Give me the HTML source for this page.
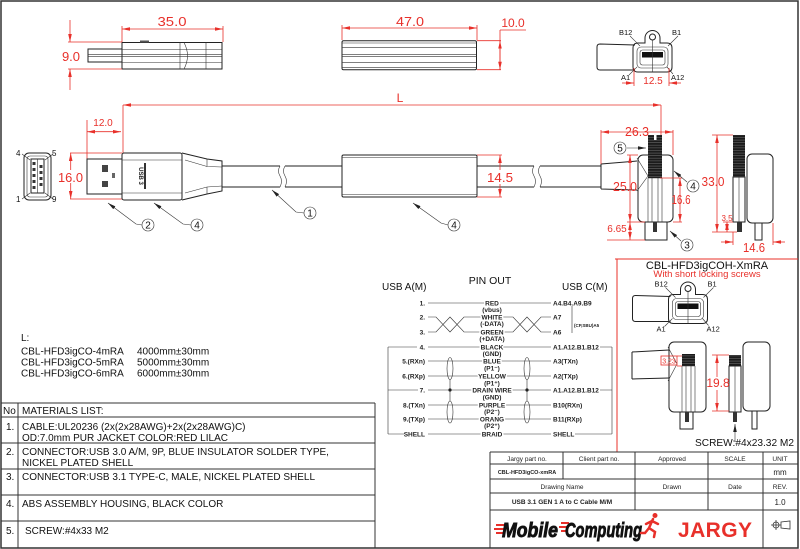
<!DOCTYPE html>
<html><head><meta charset="utf-8"><style>
html,body{margin:0;padding:0;background:#fff;width:800px;height:549px;overflow:hidden}
svg{display:block}
text{font-family:"Liberation Sans",Arial,sans-serif}
.r{fill:#e8302a}
.rs{stroke:#e8302a;stroke-width:0.8;fill:none}
.k{stroke:#222;stroke-width:1;fill:none}
.kt{stroke:#333;stroke-width:0.6;fill:none}
.pl{font-size:6.5px;font-weight:bold;fill:#222}
.halo{paint-order:stroke;stroke:#fff;stroke-width:3px;stroke-linejoin:round}
.t10{font-size:10px;fill:#111}
.tb{font-size:6.5px;fill:#222}
</style></head><body>
<svg width="800" height="549" viewBox="0 0 800 549" xmlns="http://www.w3.org/2000/svg">
<defs>
<marker id="ar" viewBox="0 0 10 4" refX="10" refY="2" markerWidth="8" markerHeight="3.6" orient="auto-start-reverse" markerUnits="userSpaceOnUse" preserveAspectRatio="none"><path d="M0,0L10,2L0,4z" fill="#e8302a"/></marker>
<marker id="ak" viewBox="0 0 10 4" refX="10" refY="2" markerWidth="8" markerHeight="3.6" orient="auto-start-reverse" markerUnits="userSpaceOnUse" preserveAspectRatio="none"><path d="M0,0L10,2L0,4z" fill="#222"/></marker>
<pattern id="th" width="4" height="2.6" patternUnits="userSpaceOnUse"><rect width="4" height="2.6" fill="#1b1b1b"/><rect y="2" width="4" height="0.5" fill="#777"/></pattern>
</defs>

<rect x="1" y="1" width="797" height="547" fill="none" stroke="#333" stroke-width="1.5"/>

<!-- ===== Top-left USB A side view ===== -->
<rect x="122" y="42.5" width="100" height="26.5" class="k"/>
<rect x="88" y="49" width="34" height="13" class="k"/>
<path class="kt" d="M122,49.5H222M122,54.7H222M122,56.7H222M122,62.5H222M88,54.7H122M88,56.7H122M180,42.5V69M206,42.5V69M184,42.5Q191,55.7 184,69"/>
<rect x="140" y="40.5" width="9" height="2" fill="#555"/>
<g class="rs">
<path d="M122,29H223" marker-start="url(#ar)" marker-end="url(#ar)"/>
<path d="M122,26V42M223,26V42M68,42H122M68,69H122"/>
<path d="M70,20V42" marker-end="url(#ar)"/>
<path d="M70,90V69" marker-end="url(#ar)"/>
</g>
<text x="172" y="26" class="r" font-size="13" text-anchor="middle" textLength="29" lengthAdjust="spacingAndGlyphs">35.0</text>
<text x="71" y="61" class="r" font-size="13" text-anchor="middle">9.0</text>

<!-- ===== Top middle ferrite ===== -->
<rect x="342" y="40.7" width="134.5" height="29" rx="1.5" class="k"/>
<path class="kt" d="M342,43H476.5M342,47.3H476.5M342,54.3H476.5M342,56.3H476.5M342,62.7H476.5M342,67.3H476.5"/>
<g class="rs">
<path d="M342,28H477" marker-start="url(#ar)" marker-end="url(#ar)"/>
<path d="M342,25V40M477,25V40M477,40.7H501M477,69.7H501M500,30H526M500,30V69.7"/>
<path d="M500,55V40.7" marker-end="url(#ar)"/>
<path d="M500,55V69.7" marker-end="url(#ar)"/>
</g>
<text x="410" y="26" class="r" font-size="13" text-anchor="middle" textLength="28" lengthAdjust="spacingAndGlyphs">47.0</text>
<text x="513" y="27" class="r" font-size="12" text-anchor="middle">10.0</text>

<!-- ===== Top-right face view ===== -->
<g>
<path class="k" stroke="#555" d="M635,45L600,44Q597,44 597,47L597,67Q597,70 600,70L635,70"/>
<path class="k" d="M638,43H645V38A7.5,7.5 0 0 1 660,38V43H667Q672,43 672,48V67Q672,72 667,72H638Q633,72 633,67V48Q633,43 638,43Z" fill="#fff"/>
<circle cx="652.5" cy="37" r="3" class="k"/>
<rect x="637" y="47" width="31" height="21" rx="4" class="kt"/>
<rect x="640" y="50" width="25" height="15" rx="2.5" class="kt"/>
<rect x="642" y="52" width="21" height="5.5" fill="#111"/>
<path class="kt" d="M652.5,40V72M630,36L640,46M678,36L668,46M629,75L637,67M673,74L667,67"/>
<text x="619" y="35" font-size="7.5" fill="#111">B12</text>
<text x="672" y="35" font-size="7.5" fill="#111">B1</text>
<text x="621" y="80" font-size="7.5" fill="#111">A1</text>
<text x="671" y="80" font-size="7.5" fill="#111">A12</text>
</g>
<g class="rs">
<path d="M634,68V86M669,68V86"/>
<path d="M622,83H634" marker-end="url(#ar)"/>
<path d="M681,83H669" marker-end="url(#ar)"/>
</g>
<text x="653" y="84" class="r" font-size="10" text-anchor="middle">12.5</text>

<!-- ===== Main side view ===== -->
<g class="rs">
<path d="M123,105H661" marker-start="url(#ar)" marker-end="url(#ar)"/>
<path d="M123,105V153M661,105V135"/>
<path d="M87,131.7H121" marker-start="url(#ar)" marker-end="url(#ar)"/>
<path d="M87,120V159"/>
<path d="M70,153H122M70,199H122"/>
<path d="M70.7,170V153" marker-end="url(#ar)"/>
<path d="M70.7,183V199" marker-end="url(#ar)"/>
</g>
<text x="400" y="102" class="r" font-size="12" text-anchor="middle">L</text>
<text x="103" y="126" class="r" font-size="10" text-anchor="middle">12.0</text>
<text x="70.5" y="182" class="r" font-size="13" text-anchor="middle" textLength="25" lengthAdjust="spacingAndGlyphs">16.0</text>

<!-- USB A end view -->
<rect x="24" y="153" width="27" height="47" rx="5" class="k"/>
<rect x="27" y="156" width="21" height="41" rx="3" class="kt"/>
<rect x="31" y="159" width="13" height="34" class="k"/>
<path class="kt" d="M37.5,159V193M22,154L30,160M53,154L45,160M22,199L30,193M53,199L45,193"/>
<g fill="#333">
<rect x="32.5" y="162" width="3" height="3"/><rect x="32.5" y="168" width="3" height="3"/><rect x="32.5" y="174" width="3" height="3"/><rect x="32.5" y="180" width="3" height="3"/><rect x="32.5" y="186" width="3" height="3"/>
<rect x="39.5" y="165" width="3" height="3"/><rect x="39.5" y="171" width="3" height="3"/><rect x="39.5" y="177" width="3" height="3"/><rect x="39.5" y="183" width="3" height="3"/>
</g>
<text x="16" y="156" font-size="8" fill="#111">4</text>
<text x="52" y="156" font-size="8" fill="#111">5</text>
<text x="16" y="202" font-size="8" fill="#111">1</text>
<text x="52" y="202" font-size="8" fill="#111">9</text>

<!-- USB A plug & body -->
<rect x="87" y="159" width="35" height="35" class="k"/>
<rect x="102" y="165" width="6" height="7" fill="#444"/>
<rect x="102" y="181" width="6" height="6" fill="#444"/>
<rect x="112" y="173" width="3" height="5" fill="#666"/>
<rect x="122" y="153" width="60" height="47" rx="2" class="k"/>
<path class="kt" d="M122,160H182M122,193H182"/>
<text transform="translate(139,176) rotate(90)" font-size="6" font-weight="bold" text-anchor="middle" fill="#222">USB 3</text>
<rect x="144" y="163" width="2" height="26" fill="#333"/>
<path class="k" d="M182,153L207,159L222,161V191L207,194L182,200"/>
<path class="kt" d="M185,160L207,166.5L222,167M185,193L207,187L222,186M207,159V166.5M207,187V194"/>

<!-- cable -->
<path class="k" d="M222,166H280M222,187H280M285,166H342M285,187H342M477,166H534M477,187H534M540,166H601M540,187H601"/>
<path class="kt" d="M280,166q-3,5 0,10q3,5 0,11M285,166q-3,5 0,10q3,5 0,11M534,166q-3,5 0,10q3,5 0,11M540,166q-3,5 0,10q3,5 0,11"/>

<!-- ferrite -->
<rect x="342" y="155" width="135" height="42" rx="1.5" class="k"/>
<path class="kt" d="M342,157.5H477M342,194.5H477"/>
<g class="rs">
<path d="M477,155H502M477,197H502"/>
<path d="M500,170V155" marker-end="url(#ar)"/>
<path d="M500,184V197" marker-end="url(#ar)"/>
</g>
<text x="500" y="182" class="r" font-size="13" text-anchor="middle" textLength="26" lengthAdjust="spacingAndGlyphs">14.5</text>

<!-- callouts main -->
<g class="kt" stroke-width="0.8">
<path d="M304,213L296,212L272,190" marker-end="url(#ak)"/>
<path d="M142,225L136,224L108,203" marker-end="url(#ak)"/>
<path d="M191,225L183,224L154,203" marker-end="url(#ak)"/>
<path d="M448,225L441,223L413,203" marker-end="url(#ak)"/>
<circle cx="310" cy="213" r="6"/>
<circle cx="148" cy="225" r="6"/>
<circle cx="197" cy="225" r="6"/>
<circle cx="454" cy="225" r="6"/>
</g>
<g font-size="10" text-anchor="middle" fill="#111">
<text x="310" y="216.5">1</text>
<text x="148" y="228.5">2</text>
<text x="197" y="228.5">4</text>
<text x="454" y="228.5">4</text>
</g>

<!-- ===== USB-C front view (main) ===== -->
<path class="k" d="M601,164L637,161M601,189L637,190M601,164V189"/>
<path class="kt" d="M637,158L648,176L637,191"/>
<rect x="638" y="155" width="35" height="67" rx="5" class="k"/>
<rect x="648" y="135" width="14" height="43" fill="url(#th)"/>
<rect x="654" y="135" width="2.5" height="5" fill="#fff"/>
<path class="kt" d="M648,178V222M652,178V222M658,178V222M662,178V222M648,178H662"/>
<rect x="645" y="222" width="22" height="18" class="k"/>
<rect x="653" y="222" width="4" height="10" fill="#333"/>
<g class="rs">
<path d="M601,132H673" marker-start="url(#ar)" marker-end="url(#ar)"/>
<path d="M601,130V164M673,130V155"/>
<path d="M627,155H638M627,222H645M607,240H645"/>
<path d="M630,155V222" marker-start="url(#ar)" marker-end="url(#ar)"/>
<path d="M630,222V240" marker-start="url(#ar)" marker-end="url(#ar)"/>
<path d="M660,178H682M673,222H682"/>
<path d="M680,178V222" marker-start="url(#ar)" marker-end="url(#ar)"/>
</g>
<text x="637" y="136" class="r" font-size="13" text-anchor="middle" textLength="24" lengthAdjust="spacingAndGlyphs">26.3</text>
<text x="625" y="191" class="r" font-size="13" text-anchor="middle" textLength="24" lengthAdjust="spacingAndGlyphs">25.0</text>
<text x="617" y="232" class="r" font-size="10" text-anchor="middle">6.65</text>
<text x="681" y="204" class="r" font-size="13" text-anchor="middle" textLength="19" lengthAdjust="spacingAndGlyphs">16.6</text>
<g class="kt" stroke-width="0.8">
<path d="M627,148H646" marker-end="url(#ak)"/>
<path d="M687,182L674,171" marker-end="url(#ak)"/>
<path d="M681,241L670,231" marker-end="url(#ak)"/>
<circle cx="620" cy="148" r="6"/>
<circle cx="693" cy="186" r="6"/>
<circle cx="687" cy="245" r="6"/>
</g>
<g font-size="10" text-anchor="middle" fill="#111">
<text x="620" y="151.5">5</text>
<text x="693" y="189.5">4</text>
<text x="687" y="248.5">3</text>
</g>

<!-- side view -->
<rect x="733" y="135" width="12" height="42" fill="url(#th)"/>
<rect x="733" y="177" width="12" height="45" class="k"/>
<path class="kt" d="M739,177V222"/>
<rect x="747" y="154" width="26" height="69" rx="5" class="k"/>
<rect x="755" y="223" width="7" height="17" class="k"/>
<rect x="737" y="222" width="5" height="10" fill="#333"/>
<g class="rs">
<path d="M712,135H733M712,232H737M723,222H733M733,232V245M773,223V245"/>
<path d="M717,135V232" marker-start="url(#ar)" marker-end="url(#ar)"/>
<path d="M727,222V232" marker-start="url(#ar)" marker-end="url(#ar)"/>
<path d="M721,242H733" marker-end="url(#ar)"/>
<path d="M785,242H773" marker-end="url(#ar)"/>
</g>
<text x="713" y="186" class="r" font-size="13" text-anchor="middle" textLength="23" lengthAdjust="spacingAndGlyphs">33.0</text>
<text x="727" y="221" class="r" font-size="8" text-anchor="middle">3.5</text>
<text x="754" y="252" class="r" font-size="13" text-anchor="middle" textLength="22" lengthAdjust="spacingAndGlyphs">14.6</text>

<!-- ===== Red box ===== -->
<path d="M615,259H798M617,259V452H798" fill="none" stroke="#e8302a" stroke-width="1"/>
<text x="707" y="269" font-size="11" text-anchor="middle" fill="#111">CBL-HFD3igCOH-XmRA</text>
<text x="707" y="277" font-size="9.5" text-anchor="middle" class="r">With short locking screws</text>

<g transform="translate(35.5,251.5)">
<path class="k" stroke="#555" d="M635,45L600,44Q597,44 597,47L597,67Q597,70 600,70L635,70"/>
<path class="k" d="M638,43H645V38A7.5,7.5 0 0 1 660,38V43H667Q672,43 672,48V67Q672,72 667,72H638Q633,72 633,67V48Q633,43 638,43Z" fill="#fff"/>
<circle cx="652.5" cy="37" r="3" class="k"/>
<rect x="637" y="47" width="31" height="21" rx="4" class="kt"/>
<rect x="640" y="50" width="25" height="15" rx="2.5" class="kt"/>
<rect x="642" y="52" width="21" height="5.5" fill="#111"/>
<path class="kt" d="M652.5,40V72M630,36L640,46M678,36L668,46M629,75L637,67M673,74L667,67"/>
<text x="619" y="35" font-size="7.5" fill="#111">B12</text>
<text x="672" y="35" font-size="7.5" fill="#111">B1</text>
<text x="621" y="80" font-size="7.5" fill="#111">A1</text>
<text x="671" y="80" font-size="7.5" fill="#111">A12</text>
</g>

<!-- lower front view -->
<path class="k" d="M632,352L669,350M632,379L669,378M632,352V379"/>
<path class="kt" d="M668,347L677,364L668,381"/>
<rect x="669" y="342" width="37" height="70" rx="5" class="k"/>
<rect x="682" y="354" width="13" height="12" fill="url(#th)"/>
<path class="kt" d="M682,366V412M686,366V412M691,366V412M695,366V412M682,366H695"/>
<rect x="680" y="412" width="13" height="17" class="k"/>
<rect x="685" y="412" width="4" height="10" fill="#333"/>
<g class="rs">
<rect x="661" y="356" width="16" height="9"/>
<path d="M677,356H682M677,366H682"/>
</g>
<text x="669" y="363.5" class="r" font-size="7" text-anchor="middle">3.23</text>

<!-- lower side view -->
<rect x="729" y="355" width="12" height="11" fill="url(#th)"/>
<rect x="729" y="366" width="12" height="46" class="k"/>
<path class="kt" d="M735,366V412"/>
<rect x="743" y="342" width="27" height="69" rx="5" class="k"/>
<rect x="752" y="411" width="5" height="18" class="k"/>
<rect x="733" y="412" width="4" height="10" fill="#333"/>
<path class="kt" stroke-width="0.8" d="M735,442V424" marker-end="url(#ak)"/>
<g class="rs">
<path d="M712,355H729M712,411H729"/>
<path d="M717,377V355" marker-end="url(#ar)"/>
<path d="M717,390V411" marker-end="url(#ar)"/>
</g>
<text x="718" y="387" class="r" font-size="12" text-anchor="middle">19.8</text>
<text x="695" y="446" font-size="10.5" fill="#111" textLength="99" lengthAdjust="spacingAndGlyphs">SCREW:#4x23.32 M2</text>

<!-- ===== PIN OUT ===== -->
<text x="490" y="284" font-size="10.5" text-anchor="middle" fill="#111">PIN OUT</text>
<text x="382" y="290" font-size="10" fill="#111">USB A(M)</text>
<text x="562" y="290" font-size="10" fill="#111">USB C(M)</text>

<g class="kt" stroke="#333" stroke-width="0.8">
<path d="M428,303H551"/>
<path d="M428,317H436L450,332L464,317H513L527,332L541,317H551"/>
<path d="M428,332H436L450,317L464,332H513L527,317L541,332H551"/>
<path d="M428,347H551M388,347H417M600,347H612"/>
<path d="M428,361H551M428,376H551"/>
<path d="M428,390H551M388,390H418M600,390H612"/>
<path d="M428,405H551M428,419H551"/>
<path d="M428,434H551M388,434H404M575,434H612"/>
<path d="M388,347V434M612,347V434"/>
<path d="M572,306V333"/>
<ellipse cx="450" cy="368.5" rx="3" ry="11"/>
<ellipse cx="450" cy="412" rx="3" ry="11"/>
<ellipse cx="527" cy="368.5" rx="3" ry="11"/>
<ellipse cx="527" cy="412" rx="3" ry="11"/>
<path d="M450,379.5V401M527,379.5V401"/>
</g>
<circle cx="450" cy="390" r="1.6" fill="#222"/>
<circle cx="527" cy="390" r="1.6" fill="#222"/>

<g class="pl" text-anchor="end">
<text x="425" y="305.3">1.</text>
<text x="425" y="319.3">2.</text>
<text x="425" y="334.3">3.</text>
<text x="425" y="349.3">4.</text>
<text x="425" y="363.3">5.(RXn)</text>
<text x="425" y="378.3">6.(RXp)</text>
<text x="425" y="392.3">7.</text>
<text x="425" y="407.3">8.(TXn)</text>
<text x="425" y="421.3">9.(TXp)</text>
<text x="425" y="436.3">SHELL</text>
</g>
<g class="pl halo" text-anchor="middle">
<text x="492" y="305.3">RED</text>
<text x="492" y="319.3">WHITE</text>
<text x="492" y="334.3">GREEN</text>
<text x="492" y="349.3">BLACK</text>
<text x="492" y="363.3">BLUE</text>
<text x="492" y="378.3">YELLOW</text>
<text x="492" y="392.3">DRAIN WIRE</text>
<text x="492" y="407.3">PURPLE</text>
<text x="492" y="421.3">ORANG</text>
<text x="492" y="436.3">BRAID</text>
</g>
<g class="pl" text-anchor="middle" font-size="6px">
<text x="492" y="312">(vbus)</text>
<text x="492" y="326">(-DATA)</text>
<text x="492" y="341">(+DATA)</text>
<text x="492" y="356">(GND)</text>
<text x="492" y="370.5">(P1⁻)</text>
<text x="492" y="385.5">(P1⁺)</text>
<text x="492" y="399.5">(GND)</text>
<text x="492" y="414">(P2⁻)</text>
<text x="492" y="428">(P2⁺)</text>
</g>
<g class="pl">
<text x="553" y="305.3">A4.B4.A9.B9</text>
<text x="553" y="319.3">A7</text>
<text x="553" y="334.3">A6</text>
<text x="553" y="349.3">A1.A12.B1.B12</text>
<text x="553" y="363.3">A3(TXn)</text>
<text x="553" y="378.3">A2(TXp)</text>
<text x="553" y="392.3">A1.A12.B1.B12</text>
<text x="553" y="407.3">B10(RXn)</text>
<text x="553" y="421.3">B11(RXp)</text>
<text x="553" y="436.3">SHELL</text>
<text x="574" y="327" font-size="4.5px">(CP,SBU)A5</text>
</g>

<!-- ===== L list ===== -->
<text x="21" y="341" class="t10">L:</text>
<text x="21" y="354.5" class="t10">CBL-HFD3igCO-4mRA</text>
<text x="137" y="354.5" class="t10">4000mm±30mm</text>
<text x="21" y="365.5" class="t10">CBL-HFD3igCO-5mRA</text>
<text x="137" y="365.5" class="t10">5000mm±30mm</text>
<text x="21" y="376.5" class="t10">CBL-HFD3igCO-6mRA</text>
<text x="137" y="376.5" class="t10">6000mm±30mm</text>

<!-- ===== Materials table ===== -->
<path d="M1,403H375M1,417H375M1,443H375M1,469H375M1,495H375M1,521H375M18,403V548M375,403V548" fill="none" stroke="#333" stroke-width="1"/>
<text x="3" y="414" class="t10">No</text>
<text x="22" y="414" class="t10">MATERIALS LIST:</text>
<text x="6" y="430" class="t10">1.</text>
<text x="22" y="430" class="t10">CABLE:UL20236 (2x(2x28AWG)+2x(2x28AWG)C)</text>
<text x="22" y="441" class="t10">OD:7.0mm  PUR JACKET COLOR:RED LILAC</text>
<text x="6" y="455" class="t10">2.</text>
<text x="22" y="455" class="t10">CONNECTOR:USB 3.0 A/M, 9P, BLUE INSULATOR SOLDER TYPE,</text>
<text x="22" y="466" class="t10">NICKEL PLATED SHELL</text>
<text x="6" y="480" class="t10">3.</text>
<text x="22" y="480" class="t10">CONNECTOR:USB 3.1 TYPE-C, MALE, NICKEL PLATED SHELL</text>
<text x="6" y="507" class="t10">4.</text>
<text x="22" y="507" class="t10">ABS ASSEMBLY HOUSING, BLACK COLOR</text>
<text x="6" y="534" class="t10">5.</text>
<text x="25" y="534" class="t10">SCREW:#4x33 M2</text>

<!-- ===== Title block ===== -->
<path d="M490,452H798M490,464H798M490,479H798M490,493H798M490,510H798M490,452V548M563,452V479M635,452V510M708,452V510M763,452V548" fill="none" stroke="#333" stroke-width="1"/>
<g class="tb" text-anchor="middle">
<text x="527" y="461">Jargy part no.</text>
<text x="599" y="461">Client part no.</text>
<text x="672" y="461">Approved</text>
<text x="735" y="461">SCALE</text>
<text x="780" y="461">UNIT</text>
<text x="527" y="474" font-weight="bold" font-size="5.5px">CBL-HFD3igCO-xmRA</text>
<text x="780" y="475" font-size="8px">mm</text>
<text x="562" y="489">Drawing Name</text>
<text x="672" y="489">Drawn</text>
<text x="735" y="489">Date</text>
<text x="780" y="489">REV.</text>
<text x="562" y="504" font-weight="bold">USB 3.1 GEN 1 A to C Cable M/M</text>
<text x="780" y="505" font-size="8px">1.0</text>
</g>
<!-- logos -->
<g fill="#e8302a">
<rect x="496" y="524" width="9" height="2"/><rect x="494" y="528" width="10" height="2"/><rect x="496" y="532" width="8" height="2"/>
<rect x="561" y="522" width="8" height="2"/><rect x="559" y="526" width="9" height="2"/><rect x="561" y="530" width="7" height="2"/>
</g>
<text x="502" y="537" font-size="20" font-weight="bold" font-style="italic" fill="#111" stroke="#111" stroke-width="0.9" textLength="56" lengthAdjust="spacingAndGlyphs">Mobile</text>
<text x="565" y="537" font-size="20" font-weight="bold" font-style="italic" fill="#111" stroke="#111" stroke-width="0.9" textLength="77" lengthAdjust="spacingAndGlyphs">Computing</text>
<g stroke="#e8302a" stroke-width="2.5" fill="none" stroke-linecap="round">
<path d="M653,519L649,528M652,521L658,524M652,521L646,524M649,528L655,532L654,537M649,528L645,533L641,533"/>
</g>
<circle cx="655" cy="515.5" r="2.5" fill="#e8302a"/>
<text x="678" y="537" font-size="21" font-weight="bold" fill="#e8302a" font-family="Liberation Serif, serif" textLength="74" lengthAdjust="spacing">JARGY</text>
<g stroke="#333" stroke-width="0.8" fill="none">
<circle cx="776" cy="525" r="3"/>
<path d="M771,525H781M776,520V530M781,522L790,521V529L781,528Z"/>
</g>
</svg>
</body></html>
